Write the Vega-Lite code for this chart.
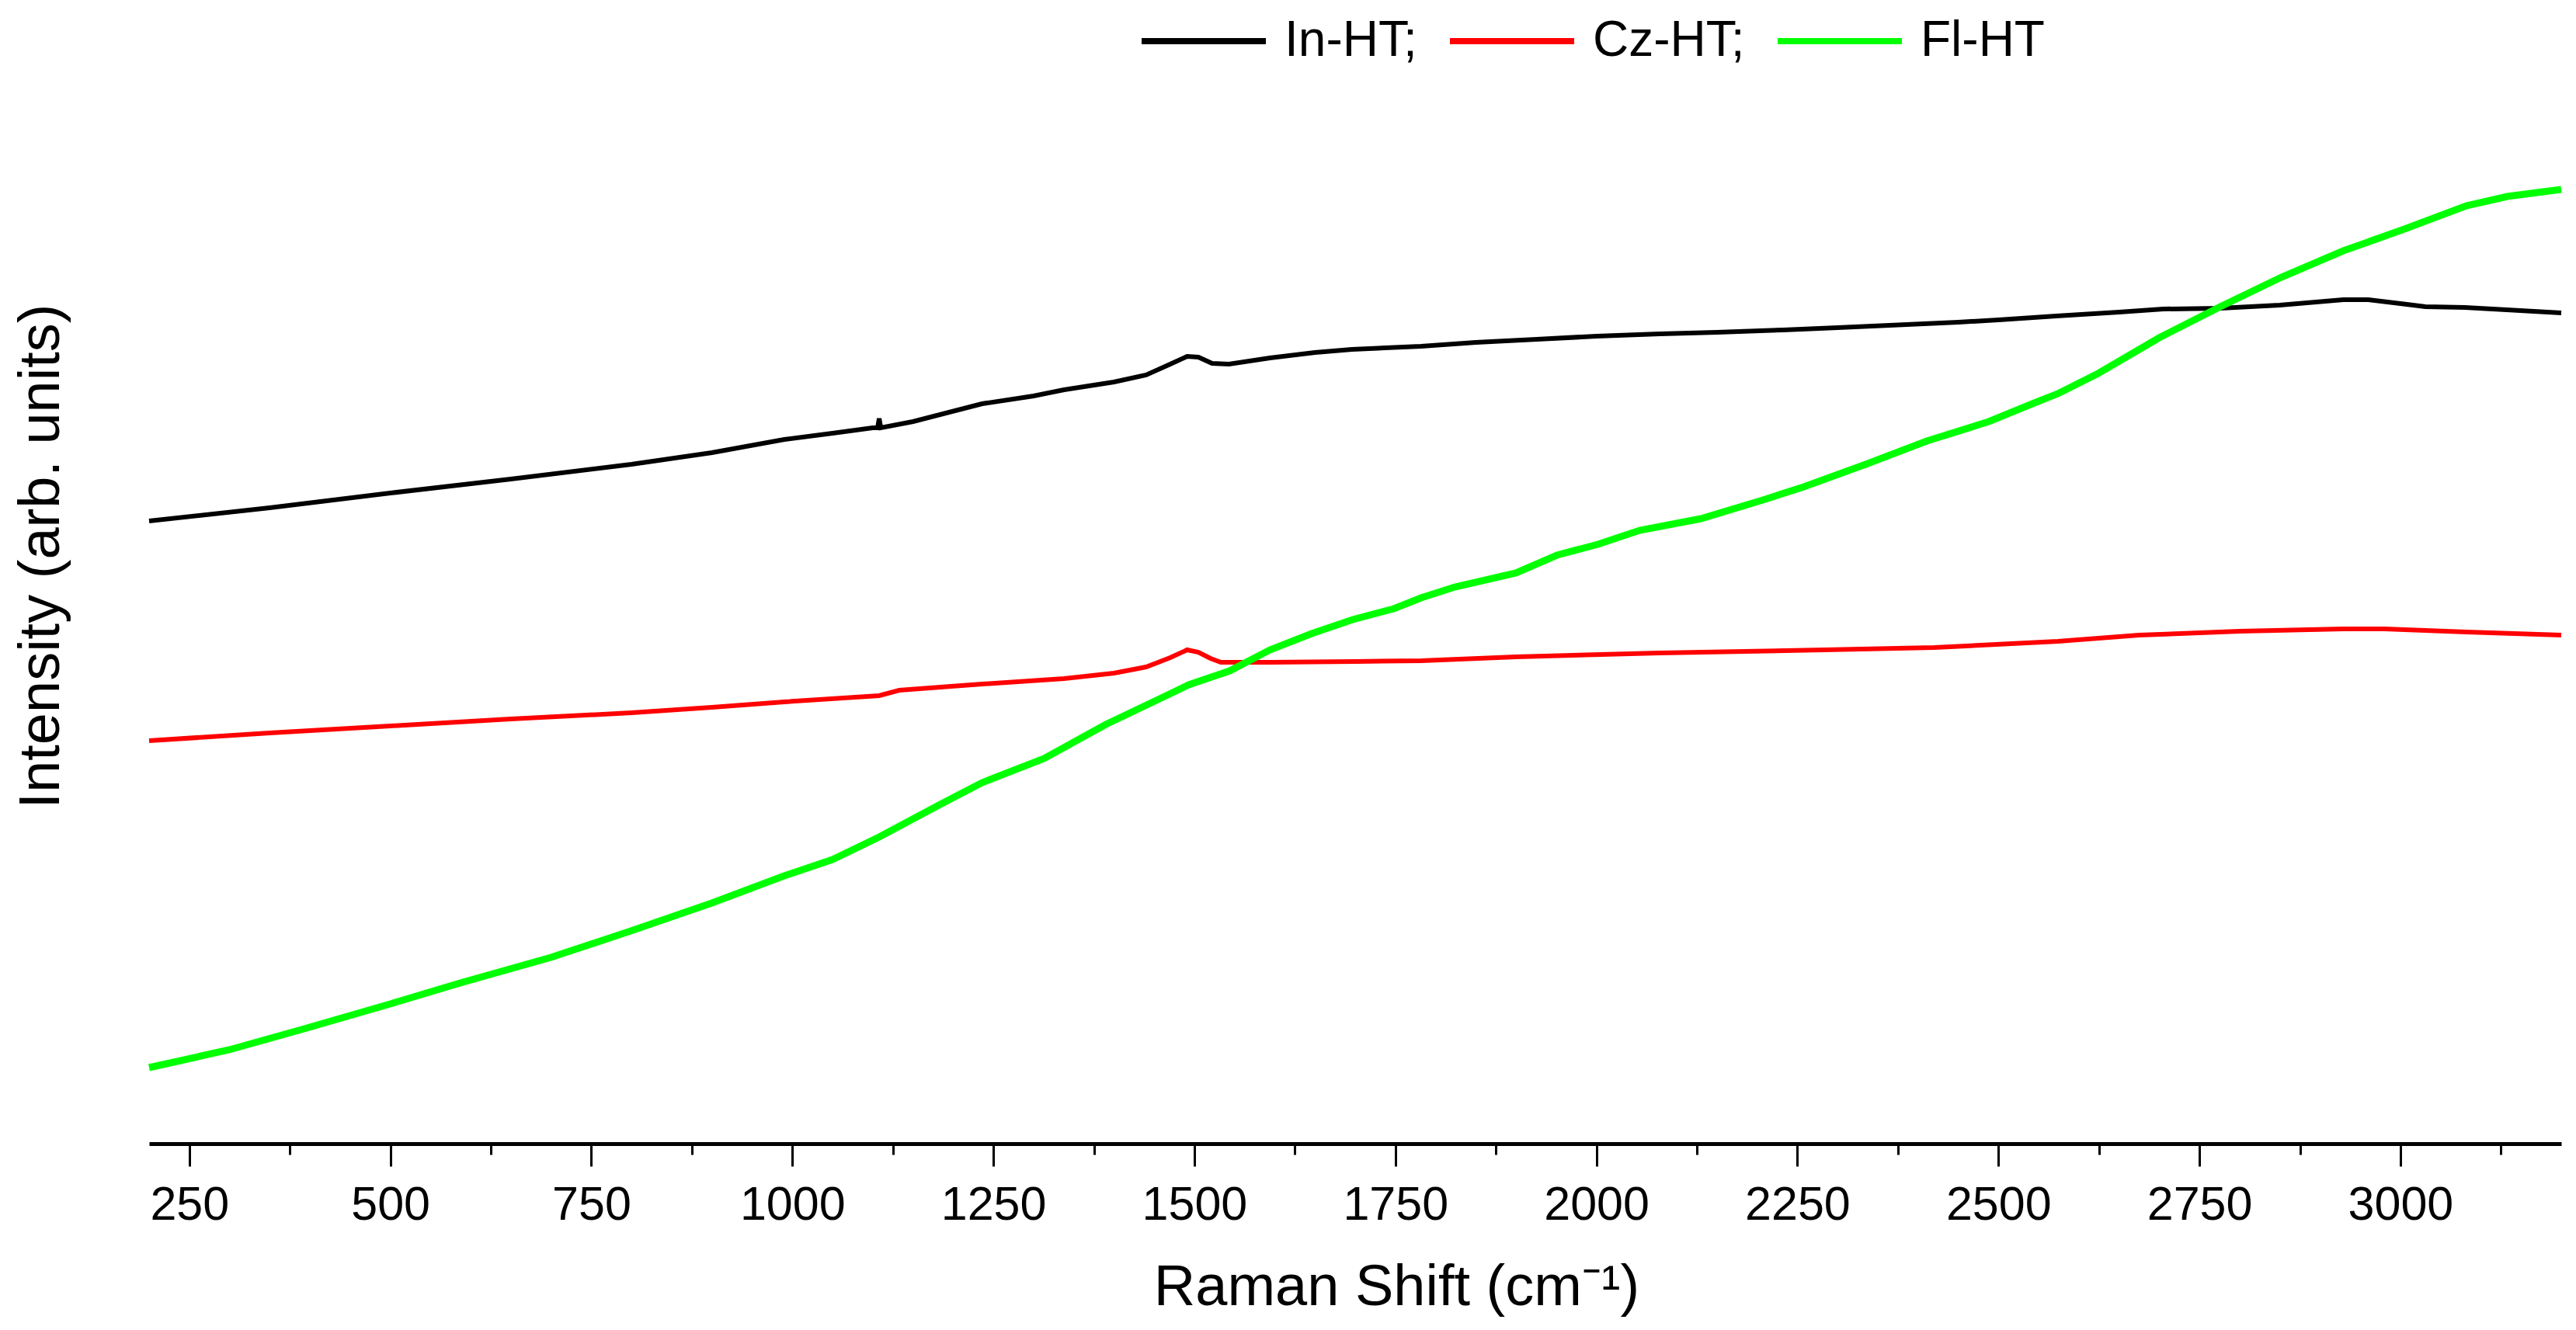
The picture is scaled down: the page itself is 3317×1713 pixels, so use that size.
{
  "$schema": "https://vega.github.io/schema/vega-lite/v6.json",
  "autosize": {"type": "none"},
  "padding": {"left": 192, "top": 73, "right": 19, "bottom": 240},
  "width": 3106,
  "height": 1400,
  "background": "white",
  "config": {"view": {"stroke": null}},
  "data": {"values": [
    {"series":"In-HT","shift":200,"intensity":802},
    {"series":"In-HT","shift":350,"intensity":819},
    {"series":"In-HT","shift":500,"intensity":838},
    {"series":"In-HT","shift":650,"intensity":856},
    {"series":"In-HT","shift":800,"intensity":875},
    {"series":"In-HT","shift":900,"intensity":890},
    {"series":"In-HT","shift":990,"intensity":907},
    {"series":"In-HT","shift":1050,"intensity":915},
    {"series":"In-HT","shift":1100,"intensity":922},
    {"series":"In-HT","shift":1106,"intensity":922},
    {"series":"In-HT","shift":1108,"intensity":934},
    {"series":"In-HT","shift":1110,"intensity":922},
    {"series":"In-HT","shift":1150,"intensity":930},
    {"series":"In-HT","shift":1236,"intensity":953},
    {"series":"In-HT","shift":1300,"intensity":963},
    {"series":"In-HT","shift":1338,"intensity":971},
    {"series":"In-HT","shift":1400,"intensity":981},
    {"series":"In-HT","shift":1440,"intensity":990},
    {"series":"In-HT","shift":1470,"intensity":1004},
    {"series":"In-HT","shift":1491,"intensity":1014},
    {"series":"In-HT","shift":1505,"intensity":1013},
    {"series":"In-HT","shift":1522,"intensity":1005},
    {"series":"In-HT","shift":1543,"intensity":1004},
    {"series":"In-HT","shift":1594,"intensity":1012},
    {"series":"In-HT","shift":1650,"intensity":1019},
    {"series":"In-HT","shift":1696,"intensity":1023},
    {"series":"In-HT","shift":1782,"intensity":1027},
    {"series":"In-HT","shift":1850,"intensity":1032},
    {"series":"In-HT","shift":1926,"intensity":1036},
    {"series":"In-HT","shift":2000,"intensity":1040},
    {"series":"In-HT","shift":2079,"intensity":1043},
    {"series":"In-HT","shift":2150,"intensity":1045},
    {"series":"In-HT","shift":2232,"intensity":1048},
    {"series":"In-HT","shift":2300,"intensity":1051},
    {"series":"In-HT","shift":2386,"intensity":1055},
    {"series":"In-HT","shift":2450,"intensity":1058},
    {"series":"In-HT","shift":2500,"intensity":1061},
    {"series":"In-HT","shift":2572,"intensity":1066},
    {"series":"In-HT","shift":2650,"intensity":1071},
    {"series":"In-HT","shift":2705,"intensity":1075},
    {"series":"In-HT","shift":2776,"intensity":1076},
    {"series":"In-HT","shift":2850,"intensity":1080},
    {"series":"In-HT","shift":2929,"intensity":1087},
    {"series":"In-HT","shift":2960,"intensity":1087},
    {"series":"In-HT","shift":3000,"intensity":1082},
    {"series":"In-HT","shift":3031,"intensity":1078},
    {"series":"In-HT","shift":3080,"intensity":1077},
    {"series":"In-HT","shift":3132,"intensity":1074},
    {"series":"In-HT","shift":3200,"intensity":1070},
    {"series":"Cz-HT","shift":200,"intensity":519},
    {"series":"Cz-HT","shift":350,"intensity":529},
    {"series":"Cz-HT","shift":500,"intensity":538},
    {"series":"Cz-HT","shift":650,"intensity":547},
    {"series":"Cz-HT","shift":800,"intensity":555},
    {"series":"Cz-HT","shift":900,"intensity":562},
    {"series":"Cz-HT","shift":990,"intensity":569},
    {"series":"Cz-HT","shift":1108,"intensity":577},
    {"series":"Cz-HT","shift":1133,"intensity":584},
    {"series":"Cz-HT","shift":1236,"intensity":592},
    {"series":"Cz-HT","shift":1338,"intensity":599},
    {"series":"Cz-HT","shift":1400,"intensity":606},
    {"series":"Cz-HT","shift":1440,"intensity":614},
    {"series":"Cz-HT","shift":1470,"intensity":626},
    {"series":"Cz-HT","shift":1491,"intensity":636},
    {"series":"Cz-HT","shift":1505,"intensity":633},
    {"series":"Cz-HT","shift":1520,"intensity":625},
    {"series":"Cz-HT","shift":1533,"intensity":620},
    {"series":"Cz-HT","shift":1594,"intensity":620},
    {"series":"Cz-HT","shift":1700,"intensity":621},
    {"series":"Cz-HT","shift":1782,"intensity":622},
    {"series":"Cz-HT","shift":1900,"intensity":627},
    {"series":"Cz-HT","shift":2079,"intensity":632},
    {"series":"Cz-HT","shift":2283,"intensity":636},
    {"series":"Cz-HT","shift":2420,"intensity":639},
    {"series":"Cz-HT","shift":2574,"intensity":647},
    {"series":"Cz-HT","shift":2675,"intensity":655},
    {"series":"Cz-HT","shift":2800,"intensity":660},
    {"series":"Cz-HT","shift":2929,"intensity":663},
    {"series":"Cz-HT","shift":2980,"intensity":663},
    {"series":"Cz-HT","shift":3082,"intensity":659},
    {"series":"Cz-HT","shift":3200,"intensity":655},
    {"series":"Fl-HT","shift":200,"intensity":98},
    {"series":"Fl-HT","shift":300,"intensity":121},
    {"series":"Fl-HT","shift":393,"intensity":148},
    {"series":"Fl-HT","shift":500,"intensity":180},
    {"series":"Fl-HT","shift":587,"intensity":207},
    {"series":"Fl-HT","shift":700,"intensity":240},
    {"series":"Fl-HT","shift":802,"intensity":275},
    {"series":"Fl-HT","shift":900,"intensity":310},
    {"series":"Fl-HT","shift":990,"intensity":345},
    {"series":"Fl-HT","shift":1050,"intensity":366},
    {"series":"Fl-HT","shift":1108,"intensity":395},
    {"series":"Fl-HT","shift":1184,"intensity":437},
    {"series":"Fl-HT","shift":1236,"intensity":465},
    {"series":"Fl-HT","shift":1313,"intensity":496},
    {"series":"Fl-HT","shift":1390,"intensity":540},
    {"series":"Fl-HT","shift":1467,"intensity":578},
    {"series":"Fl-HT","shift":1493,"intensity":591},
    {"series":"Fl-HT","shift":1544,"intensity":609},
    {"series":"Fl-HT","shift":1594,"intensity":636},
    {"series":"Fl-HT","shift":1646,"intensity":657},
    {"series":"Fl-HT","shift":1697,"intensity":675},
    {"series":"Fl-HT","shift":1748,"intensity":689},
    {"series":"Fl-HT","shift":1782,"intensity":703},
    {"series":"Fl-HT","shift":1824,"intensity":717},
    {"series":"Fl-HT","shift":1900,"intensity":735},
    {"series":"Fl-HT","shift":1951,"intensity":758},
    {"series":"Fl-HT","shift":2002,"intensity":772},
    {"series":"Fl-HT","shift":2054,"intensity":790},
    {"series":"Fl-HT","shift":2130,"intensity":805},
    {"series":"Fl-HT","shift":2207,"intensity":829},
    {"series":"Fl-HT","shift":2258,"intensity":846},
    {"series":"Fl-HT","shift":2335,"intensity":875},
    {"series":"Fl-HT","shift":2411,"intensity":905},
    {"series":"Fl-HT","shift":2488,"intensity":930},
    {"series":"Fl-HT","shift":2547,"intensity":955},
    {"series":"Fl-HT","shift":2574,"intensity":966},
    {"series":"Fl-HT","shift":2624,"intensity":992},
    {"series":"Fl-HT","shift":2700,"intensity":1038},
    {"series":"Fl-HT","shift":2776,"intensity":1078},
    {"series":"Fl-HT","shift":2852,"intensity":1116},
    {"series":"Fl-HT","shift":2929,"intensity":1150},
    {"series":"Fl-HT","shift":3005,"intensity":1178},
    {"series":"Fl-HT","shift":3082,"intensity":1208},
    {"series":"Fl-HT","shift":3133,"intensity":1220},
    {"series":"Fl-HT","shift":3200,"intensity":1229}
  ]},
  "encoding": {
    "x": {
      "field": "shift", "type": "quantitative",
      "scale": {"domain": [200, 3200], "nice": false, "zero": false},
      "axis": {
        "values": [250,375,500,625,750,875,1000,1125,1250,1375,1500,1625,1750,1875,2000,2125,2250,2375,2500,2625,2750,2875,3000,3125],
        "labelExpr": "datum.value % 250 === 0 ? datum.label : ''",
        "format": "d",
        "tickSize": {"condition": {"test": "datum.value % 250 === 0", "value": 29}, "value": 14},
        "tickWidth": 3, "tickColor": "black",
        "domainColor": "black", "domainWidth": 5,
        "grid": false,
        "labelFont": "Liberation Sans", "labelFontSize": 61, "labelColor": "black",
        "labelPadding": 20, "labelOverlap": false, "labelBound": false, "labelFlush": false,
        "title": "Raman Shift (cm⁻¹)",
        "titleFont": "Liberation Sans", "titleFontSize": 74, "titleFontWeight": "normal", "titleColor": "black",
        "titleBaseline": "alphabetic", "titleX": 1606, "titleY": 207
      }
    },
    "y": {
      "field": "intensity", "type": "quantitative",
      "scale": {"domain": [0, 1400], "nice": false, "zero": false},
      "axis": {
        "domain": false, "ticks": false, "labels": false, "grid": false,
        "title": "Intensity (arb. units)",
        "titleFont": "Liberation Sans", "titleFontSize": 74, "titleFontWeight": "normal", "titleColor": "black",
        "titleBaseline": "alphabetic", "titleAlign": "center", "titleAngle": -90, "titleX": -117, "titleY": 643
      }
    },
    "color": {
      "field": "series", "type": "nominal",
      "scale": {"domain": ["In-HT", "Cz-HT", "Fl-HT"], "range": ["#000000", "#FF0000", "#00FF00"]},
      "legend": {
        "orient": "none", "legendX": 1274, "legendY": -104, "direction": "horizontal",
        "title": null, "padding": 0,
        "symbolType": "stroke", "symbolSize": 25600, "symbolStrokeWidth": 8,
        "labelFont": "Liberation Sans", "labelFontSize": 64, "labelColor": "black",
        "labelOffset": 20, "columnPadding": 26, "labelLimit": 0,
        "labelExpr": "datum.label === 'Fl-HT' ? datum.label : datum.label + ';'"
      }
    }
  },
  "layer": [
    {"transform": [{"filter": "datum.series === 'In-HT'"}], "mark": {"type": "line", "strokeWidth": 6}},
    {"transform": [{"filter": "datum.series === 'Cz-HT'"}], "mark": {"type": "line", "strokeWidth": 6}},
    {"transform": [{"filter": "datum.series === 'Fl-HT'"}], "mark": {"type": "line", "strokeWidth": 9}}
  ]
}
